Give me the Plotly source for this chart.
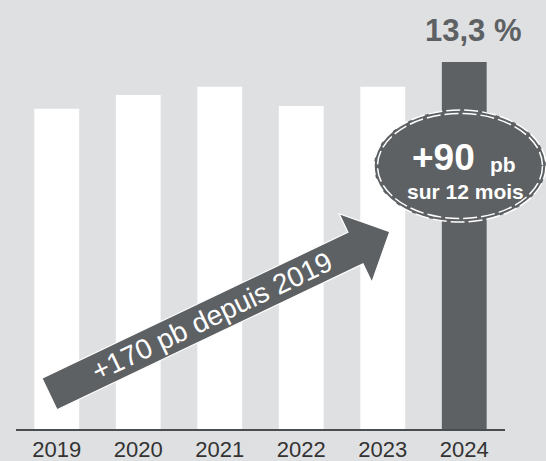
import math
import plotly.graph_objects as go

# Ratio values per year (%)
years = ["2019", "2020", "2021", "2022", "2023", "2024"]
ratio = [11.6, 12.1, 12.4, 11.7, 12.4, 13.3]

BG = "#dfe0e2"
DARK = "#5e6164"
FONT = "Arial, Liberation Sans, sans-serif"

# Figure geometry (pixels)
FIG_W, FIG_H = 546, 461
M_L, M_R, M_T, M_B = 16, 41, 0, 32
PLOT_W = FIG_W - M_L - M_R
PLOT_H = FIG_H - M_T - M_B
PX_PER_UNIT = 27.6


def paper(x, y):
    """Convert pixel coordinates of the page into paper coordinates."""
    return (x - M_L) / PLOT_W, (M_T + PLOT_H - y) / PLOT_H


bar_colors = ["white"] * (len(years) - 1) + [DARK]

fig = go.Figure(
    go.Bar(
        x=years,
        y=ratio,
        marker=dict(color=bar_colors, line=dict(width=0)),
        width=0.55,
        hoverinfo="skip",
    )
)

shapes = []
annotations = []

# Value label above the last bar (category index on the x axis)
last = ratio[-1]
annotations.append(dict(
    x=len(years) - 1, y=last, xref="x", yref="y",
    text=f"<b>{last:.1f} %</b>".replace(".", ","),
    showarrow=False, xanchor="center", yanchor="bottom",
    xshift=9, yshift=12,
    font=dict(family=FONT, size=31, color=DARK),
))

# Long-term arrow from the first year towards the last one
tail = (49.5, 394.0)
ang = math.radians(25.5)
ux, uy = math.cos(ang), -math.sin(ang)
nx, ny = math.sin(ang), math.cos(ang)
shaft_len, shaft_hw = 339.0, 17.5
head_len, head_hw = 38.0, 38.0
bx, by = tail[0] + ux * shaft_len, tail[1] + uy * shaft_len
pts = [
    (tail[0] - nx * shaft_hw, tail[1] - ny * shaft_hw),
    (bx - nx * shaft_hw, by - ny * shaft_hw),
    (bx - nx * head_hw, by - ny * head_hw),
    (bx + ux * head_len, by + uy * head_len),
    (bx + nx * head_hw, by + ny * head_hw),
    (bx + nx * shaft_hw, by + ny * shaft_hw),
    (tail[0] + nx * shaft_hw, tail[1] + ny * shaft_hw),
]
path = "M " + " L ".join(f"{paper(*p)[0]:.5f},{paper(*p)[1]:.5f}" for p in pts) + " Z"
shapes.append(dict(type="path", xref="paper", yref="paper", path=path,
                   fillcolor=DARK, line=dict(color="white", width=1.2), layer="above"))

gain_total = round((ratio[-1] - ratio[0]) * 100)
tx, ty = tail[0] + ux * 180, tail[1] + uy * 180
px_, py_ = paper(tx, ty)
annotations.append(dict(
    x=px_, y=py_, xref="paper", yref="paper",
    text=f"+{gain_total} pb depuis {years[0]}",
    showarrow=False, xanchor="center", yanchor="middle",
    textangle=-25.5,
    font=dict(family=FONT, size=28, color="white"),
))

# Ellipse badge with a double dashed white border
cx, cy, rx, ry = 460.0, 166.0, 86.0, 56.0
x0, y0 = paper(cx - rx, cy + ry)
x1, y1 = paper(cx + rx, cy - ry)
shapes.append(dict(type="circle", xref="paper", yref="paper",
                   x0=x0, y0=y0, x1=x1, y1=y1,
                   fillcolor=DARK, line=dict(color="white", width=1.5, dash="14px,4px"),
                   layer="above"))
x0, y0 = paper(cx - rx + 3.5, cy + ry - 3.5)
x1, y1 = paper(cx + rx - 3.5, cy - ry + 3.5)
shapes.append(dict(type="circle", xref="paper", yref="paper",
                   x0=x0, y0=y0, x1=x1, y1=y1,
                   fillcolor="rgba(0,0,0,0)", line=dict(color="white", width=1.5, dash="14px,4px"),
                   layer="above"))

gain_year = round((ratio[-1] - ratio[-2]) * 100)
for text, (x, y), size in [
    (f"<b>+{gain_year}</b>", (443.5, 157.0), 37),
    ("<b>pb</b>", (502.5, 164.0), 21),
    ("<b>sur 12 mois</b>", (465.0, 191.0), 21),
]:
    ax_, ay_ = paper(x, y)
    annotations.append(dict(
        x=ax_, y=ay_, xref="paper", yref="paper", text=text,
        showarrow=False, xanchor="center", yanchor="middle",
        font=dict(family=FONT, size=size, color="white"),
    ))

fig.update_layout(
    width=FIG_W, height=FIG_H,
    margin=dict(l=M_L, r=M_R, t=M_T, b=M_B, pad=0),
    paper_bgcolor=BG, plot_bgcolor=BG,
    showlegend=False,
    bargap=0.45,
    shapes=shapes,
    annotations=annotations,
    xaxis=dict(
        type="category", range=[-0.5, len(years) - 0.5],
        showline=True, linecolor="#4a4d50", linewidth=2,
        showgrid=False, zeroline=False,
        ticks="",
        tickfont=dict(family=FONT, size=22, color="#333333"),
        automargin=False, fixedrange=True,
    ),
    yaxis=dict(
        range=[0, PLOT_H / PX_PER_UNIT], visible=False,
        showgrid=False, zeroline=False, fixedrange=True,
    ),
)

fig.write_html("out.html", config={"displayModeBar": False})
